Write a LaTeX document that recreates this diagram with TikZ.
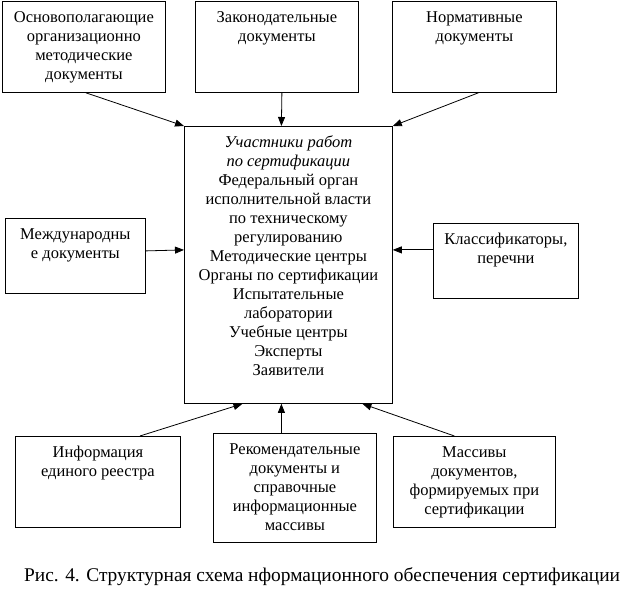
\documentclass[tikz,border=0pt]{standalone}
\usepackage{fontspec}
\setmainfont{Liberation Serif}
\usepackage{tikz}
\usetikzlibrary{arrows.meta}
\newcommand{\blk}[3]{\parbox[t][#2][t]{#1}{\centering\vspace*{8pt}\strut #3}}

\begin{document}
\begin{tikzpicture}[
  x=1pt, y=-1pt,
  font=\fontsize{16.5pt}{19pt}\selectfont,
  box/.style={draw, line width=0.8pt, inner sep=0pt, anchor=north west},
  arr/.style={-{Triangle[length=9pt, width=7pt]}, line width=0.8pt},
  captxt/.style={anchor=west, inner sep=0pt, font=\fontsize{19.4pt}{23pt}\selectfont}
]
\useasboundingbox (0,0) rectangle (626,601);
\node[box] (osn) at (2,1) {\blk{163pt}{91pt}{Основополагающие\\ организационно\\
  методические\\ документы}};
\node[box] (zak) at (195,1) {\blk{163pt}{91pt}{Законодательные\\ документы}};
\node[box] (norm) at (392,1) {\blk{164pt}{91pt}{Нормативные\\ документы}};
\node[box] (cen) at (184,126) {\blk{208pt}{277pt}{{\itshape Участники работ\\
  по сертификации}\\ Федеральный орган\\ исполнительной власти\\
  по техническому\\ регулированию\\ Методические центры\\
  Органы по сертификации\\ Испытательные\\ лаборатории\\
  Учебные центры\\ Эксперты\\ Заявители}};
\node[box] (mezh) at (5,218) {\blk{140pt}{75pt}{Международны\\ е документы}};
\node[box] (klass) at (433,223) {\blk{145pt}{75pt}{Классификаторы,\\ перечни}};
\node[box] (inf) at (15,436) {\blk{165pt}{91pt}{Информация\\ единого реестра}};
\node[box] (rek) at (213,433) {\blk{163pt}{109pt}{Рекомендательные\\
  документы и\\ справочные\\ информационные\\ массивы}};
\node[box] (mas) at (393,436) {\blk{162pt}{91pt}{Массивы\\ документов,\\
  формируемых при\\ сертификации}};
\node[captxt] (caption) at (24,577)
  {Рис. 4. Структурная схема нформационного обеспечения сертификации};
% входящие потоки
\draw[arr] ([xshift=2pt]osn.south) -- (cen.north west);
\draw[arr] ([xshift=5pt]zak.south) -- ([xshift=-7pt]cen.north);
\draw[arr] ([xshift=4pt]norm.south) -- (cen.north east);
\draw[arr] ([yshift=5pt]mezh.east) -- ([yshift=15pt]cen.west);
\draw[arr] ([yshift=11pt]klass.west) -- ([yshift=15pt]cen.east);
\draw[arr] ([xshift=42pt]inf.north) -- ([xshift=-46pt]cen.south);
\draw[arr] ([xshift=-13.5pt]rek.north) -- ([xshift=-7pt]cen.south);
\draw[arr] ([xshift=-20pt]mas.north) -- ([xshift=74pt]cen.south);
\end{tikzpicture}
\end{document}
